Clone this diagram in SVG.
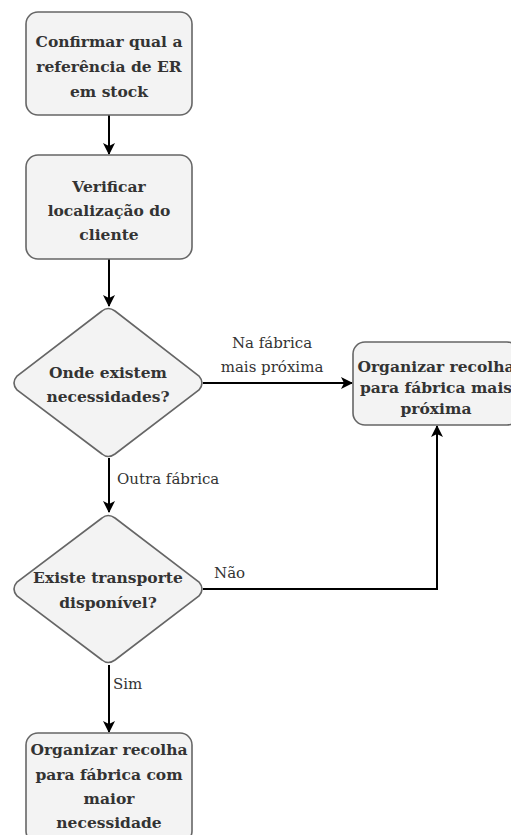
<svg xmlns="http://www.w3.org/2000/svg" width="511" height="835" viewBox="0 0 511 835">
  <style>
    .node { fill: #f3f3f3; stroke: #666666; stroke-width: 1.6; }
    .ntext { font-family: "DejaVu Serif", "Liberation Serif", serif; font-weight: bold; font-size: 15.5px; fill: #333333; text-anchor: middle; }
    .edge { fill: none; stroke: #000000; stroke-width: 2; }
    .elabel { font-family: "DejaVu Serif", "Liberation Serif", serif; font-size: 15px; fill: #333333; }
  </style>
  <defs>
    <marker id="arrow" markerWidth="12" markerHeight="12" viewBox="0 0 12 12" refX="11" refY="6" orient="auto" markerUnits="userSpaceOnUse">
      <path d="M0,0 L12,6 L0,12 L3,6 Z" fill="#000000"/>
    </marker>
  </defs>
  <rect width="511" height="835" fill="#ffffff"/>

  <g id="connectors">
    <path class="edge" d="M109,115 L109,154" marker-end="url(#arrow)"/>
    <path class="edge" d="M109,259 L109,306" marker-end="url(#arrow)"/>
    <path class="edge" d="M203,383 L352,383" marker-end="url(#arrow)"/>
    <path class="edge" d="M109,458 L109,512" marker-end="url(#arrow)"/>
    <path class="edge" d="M203,589 L437,589 L437,426" marker-end="url(#arrow)"/>
    <path class="edge" d="M109,665 L109,732" marker-end="url(#arrow)"/>
    <text class="elabel" x="272" y="348" text-anchor="middle">Na fábrica</text>
    <text class="elabel" x="272" y="372" text-anchor="middle">mais próxima</text>
    <text class="elabel" x="117" y="484">Outra fábrica</text>
    <text class="elabel" x="214" y="578">Não</text>
    <text class="elabel" x="113" y="689">Sim</text>
  </g>

  <g id="confirmar">
    <rect class="node" x="26" y="12" width="166" height="103" rx="12"/>
    <text class="ntext" x="109" y="47">Confirmar qual a</text>
    <text class="ntext" x="109" y="72">referência de ER</text>
    <text class="ntext" x="109" y="97">em stock</text>
  </g>

  <g id="verificar">
    <rect class="node" x="26" y="155" width="166" height="104" rx="12"/>
    <text class="ntext" x="109" y="192">Verificar</text>
    <text class="ntext" x="109" y="216">localização do</text>
    <text class="ntext" x="109" y="240">cliente</text>
  </g>

  <g id="onde">
    <path class="node" d="M102,311 Q108,306 115,311 L199,376 Q205,383 199,390 L115,454 Q108,459 102,454 L17,390 Q11,383 17,376 Z"/>
    <text class="ntext" x="108" y="378">Onde existem</text>
    <text class="ntext" x="108" y="402">necessidades?</text>
  </g>

  <g id="recolha-proxima">
    <rect class="node" x="353" y="342" width="166" height="83" rx="12"/>
    <text class="ntext" x="436" y="372">Organizar recolha</text>
    <text class="ntext" x="436" y="393">para fábrica mais</text>
    <text class="ntext" x="436" y="414">próxima</text>
  </g>

  <g id="transporte">
    <path class="node" d="M102,518 Q108,513 115,518 L199,582 Q205,589 199,596 L115,660 Q108,665 102,660 L17,596 Q11,589 17,582 Z"/>
    <text class="ntext" x="108" y="583">Existe transporte</text>
    <text class="ntext" x="108" y="608">disponível?</text>
  </g>

  <g id="recolha-necessidade">
    <rect class="node" x="26" y="733" width="166" height="110" rx="12"/>
    <text class="ntext" x="109" y="755">Organizar recolha</text>
    <text class="ntext" x="109" y="780">para fábrica com</text>
    <text class="ntext" x="109" y="804">maior</text>
    <text class="ntext" x="109" y="828">necessidade</text>
  </g>
</svg>
